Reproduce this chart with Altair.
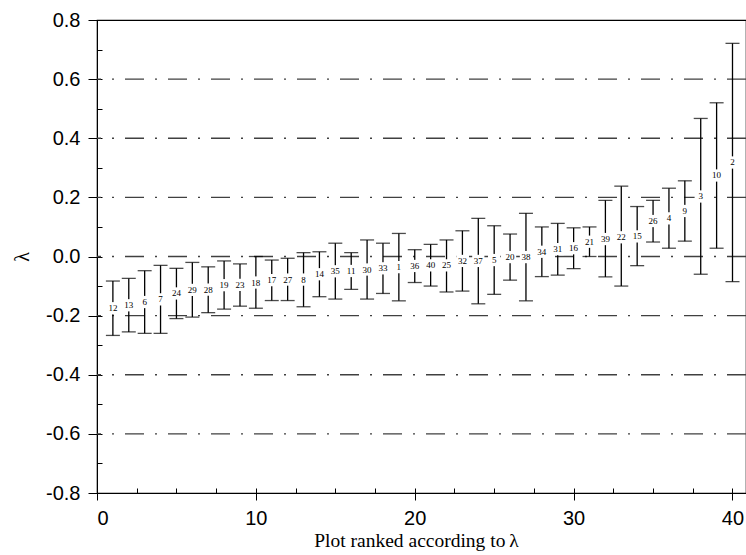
import altair as alt
import pandas as pd

# Plots ordered by their lambda estimate (rank 1 = smallest)
rank = list(range(1, 41))
plot_id = [12, 13, 6, 7, 24, 29, 28, 19, 23, 18,
           17, 27, 8, 14, 35, 11, 30, 33, 1, 36,
           40, 25, 32, 37, 5, 20, 38, 34, 31, 16,
           21, 39, 22, 15, 26, 4, 9, 3, 10, 2]
lam = [-0.175, -0.165, -0.154, -0.145, -0.125, -0.113, -0.112, -0.097, -0.096, -0.088,
       -0.080, -0.078, -0.078, -0.060, -0.050, -0.049, -0.044, -0.040, -0.036, -0.032,
       -0.030, -0.030, -0.015, -0.015, -0.012, -0.002, -0.002, 0.016, 0.025, 0.028,
       0.050, 0.059, 0.065, 0.068, 0.120, 0.129, 0.154, 0.203, 0.274, 0.318]
lower = [-0.267, -0.255, -0.260, -0.260, -0.210, -0.205, -0.190, -0.178, -0.168, -0.175,
         -0.149, -0.149, -0.170, -0.136, -0.144, -0.111, -0.144, -0.125, -0.150, -0.088,
         -0.100, -0.120, -0.117, -0.160, -0.128, -0.080, -0.150, -0.068, -0.063, -0.041,
         0.000, -0.069, -0.100, -0.031, 0.049, 0.028, 0.052, -0.060, 0.028, -0.085]
upper = [-0.083, -0.074, -0.048, -0.030, -0.040, -0.020, -0.035, -0.015, -0.025, 0.000,
         -0.012, -0.006, 0.013, 0.016, 0.045, 0.013, 0.056, 0.045, 0.078, 0.023,
         0.041, 0.056, 0.087, 0.129, 0.104, 0.076, 0.146, 0.100, 0.112, 0.097,
         0.100, 0.190, 0.238, 0.169, 0.190, 0.231, 0.256, 0.467, 0.520, 0.721]

grid_levels = [-0.6, -0.4, -0.2, 0.0, 0.2, 0.4, 0.6]
y_ticks = [-0.8, -0.6, -0.4, -0.2, 0.0, 0.2, 0.4, 0.6, 0.8]
y_minor = [-0.7, -0.5, -0.3, -0.1, 0.1, 0.3, 0.5, 0.7]
x_ticks = [0, 10, 20, 30, 40]
x_minor = [2.5, 5, 7.5, 12.5, 15, 17.5, 22.5, 25, 27.5, 32.5, 35, 37.5]

df = pd.DataFrame({"rank": rank, "plot": plot_id, "lam": lam,
                   "lower": lower, "upper": upper})
grid_df = pd.DataFrame({"level": grid_levels})

W, H = 649, 473
xscale = alt.Scale(domain=[0, 40.85], nice=False, zero=False)
yscale = alt.Scale(domain=[-0.8, 0.8], nice=False, zero=False)

base = alt.Chart(df)

grid = alt.Chart(grid_df).mark_rule(
    color="#404040", strokeWidth=1.3, strokeDash=[19, 11, 2, 11]
).encode(y=alt.Y("level:Q", scale=yscale, axis=None))

bars = base.mark_rule(color="black", strokeWidth=1.3).encode(
    x=alt.X("rank:Q", scale=xscale,
            title="Plot ranked according to\u2009\u03bb",
            axis=alt.Axis(values=x_ticks, format="d", tickSize=7, tickColor="black",
                          domainColor="black", labelFont="Liberation Sans",
                          labelFontSize=20, labelColor="black", labelPadding=8,
                          titleFont="Liberation Serif", titleFontSize=19.5,
                          titleFontWeight="normal", titleColor="black",
                          titleX=319, titleY=47, titleBaseline="middle",
                          grid=False)),
    y=alt.Y("lower:Q", scale=yscale, title="\u03bb",
            axis=alt.Axis(values=y_ticks, tickSize=9, tickColor="black",
                          domainColor="black",
                          labelExpr="datum.value < 0 ? '-' + format(-datum.value, '.1f') : format(datum.value, '.1f')",
                          labelFont="Liberation Sans", labelFontSize=20,
                          labelColor="black", labelPadding=8,
                          titleFont="Liberation Serif", titleFontSize=20,
                          titleFontWeight="normal", titleColor="black",
                          titleAngle=270, titleX=-75, titleY=236.5,
                          titleBaseline="middle", grid=False)),
    y2="upper:Q",
)

# small inward ticks drawn by a second pair of axes pulled inside the frame
lower_caps = base.mark_tick(orient="horizontal", size=14, thickness=1.3, color="black").encode(
    x=alt.X("rank:Q", scale=xscale, title=None,
            axis=alt.Axis(values=x_minor + x_ticks, orient="bottom", offset=-5, tickSize=5,
                          tickColor="black", domain=False, labels=False, grid=False)),
    y=alt.Y("lower:Q", scale=yscale, title=None,
            axis=alt.Axis(values=y_minor + y_ticks, orient="left", offset=-5, tickSize=5,
                          tickColor="black", domain=False, labels=False, grid=False)),
)

upper_caps = base.mark_tick(orient="horizontal", size=14, thickness=1.3, color="black").encode(
    x=alt.X("rank:Q", scale=xscale, axis=None),
    y=alt.Y("upper:Q", scale=yscale, axis=None),
)

label_bg = base.mark_square(color="white", size=150, opacity=1).encode(
    x=alt.X("rank:Q", scale=xscale, axis=None),
    y=alt.Y("lam:Q", scale=yscale, axis=None),
)

labels = base.mark_text(font="Liberation Serif", fontSize=9, color="black").encode(
    x=alt.X("rank:Q", scale=xscale, axis=None),
    y=alt.Y("lam:Q", scale=yscale, axis=None),
    text="plot:N",
)

chart = alt.layer(grid, bars, lower_caps, upper_caps, label_bg, labels).resolve_axis(
    x="independent", y="independent"
).properties(
    width=W, height=H,
    autosize=alt.AutoSizeParams(type="none"),
    padding={"left": 97, "top": 20, "right": 0, "bottom": 62},
    background="white",
).configure_view(stroke="black", strokeWidth=1.2)

chart.save("out.html", embed_options={"renderer": "svg", "actions": False})
